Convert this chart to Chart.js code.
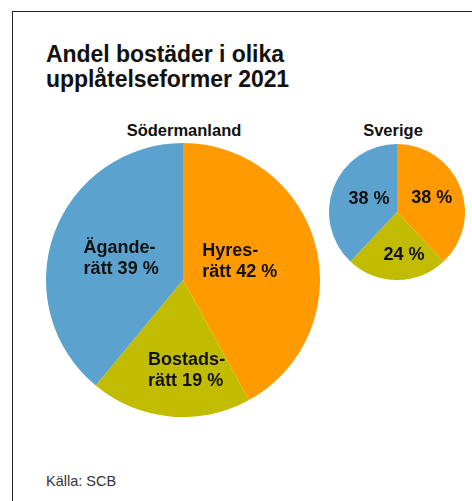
<!DOCTYPE html>
<html lang="sv">
<head>
<meta charset="utf-8">
<script src="https://cdn.jsdelivr.net/npm/chart.js@4"></script>
<style>
    html, body { margin: 0; padding: 0; background: #fff; }
    body { width: 472px; height: 501px; position: relative; overflow: hidden;
           font-family: "Liberation Sans", Arial, sans-serif; color: #111; }
    .frame { position: absolute; left: 12px; top: 11px; width: 480px; height: 520px;
             border-left: 1px solid #222; border-top: 1px solid #222; }
    .title { position: absolute; left: 46px; top: 42px; font-size: 23px; line-height: 25px;
             font-weight: bold; letter-spacing: -0.05px; }
    .sub { position: absolute; top: 122px; font-size: 16.5px; line-height: 16px; font-weight: bold;
           text-align: center; width: 200px; }
    .source { position: absolute; left: 46px; top: 474px; font-size: 14.5px; line-height: 14px; color: #333; }
    canvas { position: absolute; }
</style>
</head>
<body>
<div class="frame"></div>
<div class="title">Andel bostäder i olika<br>upplåtelseformer 2021</div>
<div class="sub" style="left:84px">Södermanland</div>
<div class="sub" style="left:293px">Sverige</div>
<canvas id="sodChart" width="274" height="274" style="left:46px;top:143px"></canvas>
<canvas id="sveChart" width="136" height="136" style="left:329px;top:144px"></canvas>
<div class="source">Källa: SCB</div>

<script>
// data
const categories = ['Hyresrätt', 'Bostadsrätt', 'Äganderätt'];
const labelParts = [['Hyres-', 'rätt'], ['Bostads-', 'rätt'], ['Ägande-', 'rätt']];
const sodermanlandValues = [42, 19, 39];
const sverigeValues = [38, 24, 38];
const sliceColors = ['#FF9A00', '#C2BC00', '#5BA3CE'];

document.addEventListener('DOMContentLoaded', function() {

    // draws the labels inside each slice, left aligned block
    const sliceLabels = {
        id: 'sliceLabels',
        afterDatasetsDraw(chart, args, opts) {
            const ctx = chart.ctx;
            const meta = chart.getDatasetMeta(0);
            const values = chart.data.datasets[0].data;
            ctx.save();
            ctx.font = 'bold ' + opts.size + 'px "Liberation Sans", Arial, sans-serif';
            ctx.fillStyle = '#111';
            ctx.textBaseline = 'middle';
            ctx.textAlign = 'left';
            meta.data.forEach((arc, i) => {
                const p = arc.getProps(['x', 'y', 'startAngle', 'endAngle', 'outerRadius'], true);
                const mid = (p.startAngle + p.endAngle) / 2;
                const r = p.outerRadius * opts.radius[i];
                // small nudge so the block sits like in the original
                const cx = p.x + Math.cos(mid) * r + opts.nudge[i][0];
                const cy = p.y + Math.sin(mid) * r + opts.nudge[i][1];
                let lines;
                if (opts.long) {
                    lines = [labelParts[i][0], labelParts[i][1] + ' ' + values[i] + ' %'];
                } else {
                    lines = [values[i] + ' %'];
                }
                const w = Math.max(...lines.map(l => ctx.measureText(l).width));
                const top = cy - (lines.length - 1) * opts.lineHeight / 2;
                lines.forEach((l, k) => {
                    ctx.fillText(l, cx - w / 2, top + k * opts.lineHeight);
                });
            });
            ctx.restore();
        }
    };

    function makePie(canvasId, values, labelOpts) {
        return new Chart(document.getElementById(canvasId), {
            type: 'pie',
            data: {
                labels: categories,
                datasets: [{
                    data: values,
                    backgroundColor: sliceColors,
                    borderWidth: 0,
                    hoverOffset: 0
                }]
            },
            options: {
                responsive: false,
                animation: false,
                events: [],
                layout: { padding: 0 },
                plugins: {
                    legend: { display: false },
                    tooltip: { enabled: false },
                    title: { display: false },
                    sliceLabels: labelOpts
                }
            },
            plugins: [sliceLabels]
        });
    }

    makePie('sodChart', sodermanlandValues, {
        size: 18, lineHeight: 21.5, long: true,
        radius: [0.45, 0.65, 0.48],
        nudge: [[-3, -3], [12, 2], [0, 1]]
    });
    makePie('sveChart', sverigeValues, {
        size: 18, lineHeight: 21, long: false,
        radius: [0.55, 0.61, 0.46],
        nudge: [[0, 0], [7, 2], [1, -1]]
    });
});
</script>
</body>
</html>
